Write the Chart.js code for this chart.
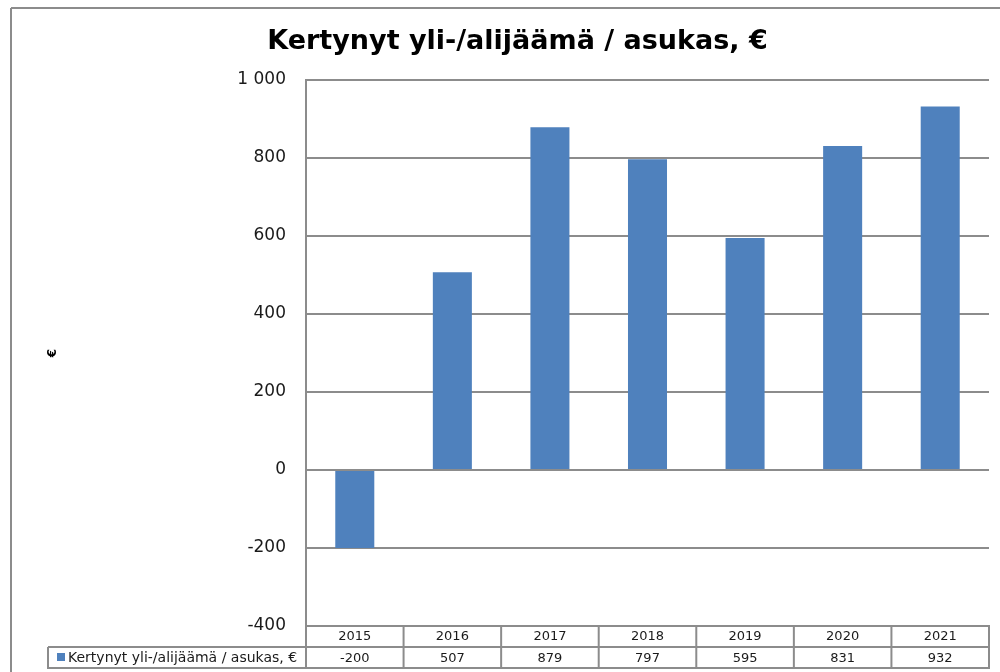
<!DOCTYPE html>
<html lang="fi">
<head>
  <meta charset="UTF-8" />
  <title>Kertynyt yli-/alijäämä / asukas, €</title>
  <script src="https://cdn.jsdelivr.net/npm/chart.js"></script>
  <style>
    * {
      margin: 0;
      padding: 0;
      box-sizing: border-box;
    }
    body {
      background: #fff;
      width: 1000px;
      height: 672px;
      overflow: hidden;
    }
    .chart-box {
      position: relative;
      width: 1000px;
      height: 672px;
    }
  </style>
</head>
<body>

  <div class="chart-box">
    <canvas id="chartSurplus"></canvas>
  </div>

  <script>
    const years = ["2015", "2016", "2017", "2018", "2019", "2020", "2021"];
    const surplusPerResident = [-200, 507, 879, 797, 595, 831, 932];
    const seriesLabel = "Kertynyt yli-/alijäämä / asukas, €";
    const chartTitle = "Kertynyt yli-/alijäämä / asukas, €";
    const yAxisTitle = "€";
    const yMin = -400;
    const yMax = 1000;
    const yStep = 200;

    const barColor = "#4f81bd";
    const lineColor = "#8c8c8c";
    const textColor = "#1a1a1a";
    const fontName = "'DejaVu Sans', Verdana, sans-serif";

    const rowHeight = 21;      // height of one row in the data table
    const legendLeft = 48;     // left edge of the legend cell

    // the Excel style data table under the plot
    const dataTablePlugin = {
      id: "dataTable",
      afterDraw(chart) {
        const ctx = chart.ctx;
        const area = chart.chartArea;
        const x = chart.scales.x;
        const half = (x.getPixelForValue(1) - x.getPixelForValue(0)) / 2;
        const top = area.bottom;
        const mid = top + rowHeight;
        const bot = mid + rowHeight;

        ctx.save();
        ctx.strokeStyle = lineColor;
        ctx.lineWidth = 2;

        function line(x1, y1, x2, y2) {
          ctx.beginPath();
          ctx.moveTo(x1, y1);
          ctx.lineTo(x2, y2);
          ctx.stroke();
        }

        // outer frame of the chart object
        line(11, 8, 1000, 8);
        line(11, 8, 11, 672);

        line(legendLeft, mid, area.right, mid);
        line(legendLeft, bot, area.right + 1, bot);
        line(legendLeft, mid, legendLeft, bot + 1);
        line(area.left, top, area.left, bot);
        years.forEach((y, i) => {
          const px = x.getPixelForValue(i) + half;
          line(px, top, px, bot);
        });

        // value row
        ctx.fillStyle = textColor;
        ctx.font = "13px " + fontName;
        ctx.textAlign = "center";
        ctx.textBaseline = "middle";
        surplusPerResident.forEach((v, i) => {
          ctx.fillText(String(v), x.getPixelForValue(i), mid + rowHeight / 2 + 1);
        });

        // legend key + name
        ctx.fillStyle = barColor;
        ctx.fillRect(57, mid + 6, 8, 8);
        ctx.fillStyle = textColor;
        ctx.textAlign = "left";
        ctx.font = "14px " + fontName;
        ctx.fillText(seriesLabel, 68, mid + rowHeight / 2 + 1);
        ctx.restore();
      }
    };

    function formatThousands(v) {
      return String(v).replace(/\B(?=(\d{3})+(?!\d))/g, " ");
    }

    const ctxSurplus = document.getElementById("chartSurplus").getContext("2d");
    new Chart(ctxSurplus, {
      type: "bar",
      data: {
        labels: years,
        datasets: [{
          label: seriesLabel,
          data: surplusPerResident,
          backgroundColor: barColor,
          barPercentage: 0.4,
          categoryPercentage: 1.0
        }]
      },
      options: {
        responsive: true,
        maintainAspectRatio: false,
        animation: false,
        layout: {
          padding: { top: 10, left: 46, right: 11, bottom: 25 }
        },
        plugins: {
          legend: { display: false },
          tooltip: { enabled: false },
          title: {
            display: true,
            text: chartTitle,
            color: "#000",
            font: { family: fontName, size: 27, weight: "bold" },
            padding: { top: 16, bottom: 21.6 }
          }
        },
        scales: {
          x: {
            grid: { display: false, drawTicks: false },
            border: { display: true, color: lineColor, width: 2 },
            ticks: {
              color: textColor,
              font: { family: fontName, size: 13 },
              padding: 3
            },
            afterFit(scale) {
              scale.height = rowHeight;
            }
          },
          y: {
            min: yMin,
            max: yMax,
            grid: { color: lineColor, lineWidth: 2, drawTicks: false },
            border: { display: true, color: lineColor, width: 2 },
            ticks: {
              stepSize: yStep,
              color: textColor,
              padding: 20,
              font: { family: fontName, size: 17 },
              callback: (v) => formatThousands(v)
            },
            title: {
              display: true,
              text: yAxisTitle,
              color: "#000",
              padding: 0,
              font: { family: fontName, size: 12, weight: "bold" }
            },
            afterFit(scale) {
              scale.width = 260;
            }
          }
        }
      },
      plugins: [dataTablePlugin]
    });
  </script>
</body>
</html>
